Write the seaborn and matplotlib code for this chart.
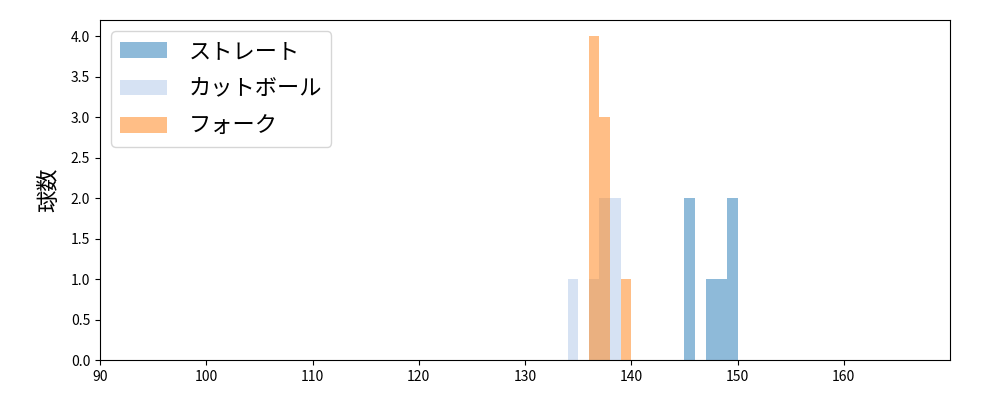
import numpy as np
import matplotlib
matplotlib.use('Agg')
import matplotlib.pyplot as plt
import seaborn as sns

plt.rcParams['font.family'] = ['Noto Sans CJK JP', 'DejaVu Sans']

# 球種ごとの球速 (km/h)
straight = [145, 145, 147, 148, 149, 149]
cutball = [134, 136, 137, 137, 138, 138]
fork = [136, 136, 136, 136, 137, 137, 137, 139]

pitch_names = ['ストレート', 'カットボール', 'フォーク']
pitch_data = [straight, cutball, fork]
pitch_colors = ['#1f77b4', '#aec7e8', '#ff7f0e']

fig, ax = plt.subplots(figsize=(10, 4), dpi=100)
fig.subplots_adjust(left=0.1, right=0.95, top=0.95, bottom=0.1)

for name, data, color in zip(pitch_names, pitch_data, pitch_colors):
    bins = np.arange(min(data), max(data) + 2)
    sns.histplot(x=data, bins=bins, color=color, alpha=0.5, linewidth=0,
                 label=name, ax=ax)

ax.set_xlim(90, 170)
ax.set_xticks(range(90, 170, 10))
ax.set_yticks(np.arange(0, 4.5, 0.5))
ax.set_yticklabels([f'{v:.1f}' for v in np.arange(0, 4.5, 0.5)])
ax.set_ylim(0, 4.2)
ax.set_ylabel('球数', fontsize=16, labelpad=8)
ax.legend(loc='upper left', fontsize=16, labelspacing=0.65,
          handletextpad=1.0, handlelength=2.1)

plt.savefig('out.png')
